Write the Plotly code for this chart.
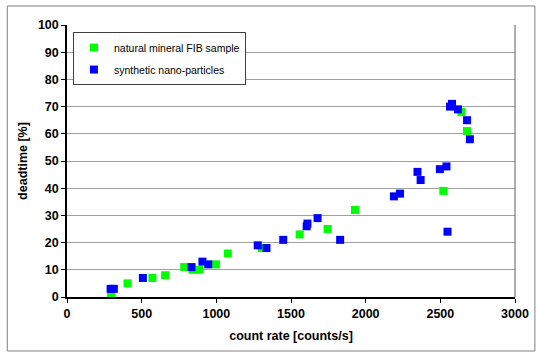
import plotly.graph_objects as go

green_x = [295, 405, 572, 657, 785, 840, 885, 997, 1077, 1305, 1558, 1745, 1928, 2520, 2640, 2678]
green_y = [1, 5, 7, 8, 11, 10, 10, 12, 16, 18, 23, 25, 32, 39, 68, 61]
blue_x = [292, 314, 508, 834, 907, 946, 1277, 1336, 1448, 1605, 1610, 1678, 1829, 2189, 2230,
          2347, 2368, 2497, 2541, 2548, 2565, 2578, 2618, 2679, 2698]
blue_y = [3, 3, 7, 11, 13, 12, 19, 18, 21, 26, 27, 29, 21, 37, 38, 46, 43, 47, 48, 24, 70, 71, 69, 65, 58]

x_ticks = [0, 500, 1000, 1500, 2000, 2500, 3000]
y_ticks = [0, 10, 20, 30, 40, 50, 60, 70, 80, 90, 100]

series_names = ["natural mineral FIB sample", "synthetic nano-particles"]
x_title = "count rate [counts/s]"
y_title = "deadtime [%]"

FONT = "Liberation Sans, Arial, sans-serif"

fig = go.Figure()
fig.add_trace(go.Scatter(x=green_x, y=green_y, mode="markers", name=series_names[0],
                         legendgroup="g1",
                         marker=dict(symbol="square", size=8, color="#00FF00", line=dict(width=0))))
fig.add_trace(go.Scatter(x=blue_x, y=blue_y, mode="markers", name=series_names[1],
                         legendgroup="g2",
                         marker=dict(symbol="square", size=8, color="#0000FF", line=dict(width=0))))

fig.update_layout(
    width=541, height=353,
    margin=dict(l=67, r=24, t=25, b=56),
    paper_bgcolor="white", plot_bgcolor="white",
    font=dict(family=FONT, size=12, color="black"),
    showlegend=True,
    legend=dict(x=0.0133, y=0.974, xanchor="left", yanchor="top",
                bgcolor="white", bordercolor="#404040", borderwidth=1,
                font=dict(family=FONT, size=10.5, color="black"),
                tracegroupgap=3),
    xaxis=dict(range=[0, 3000], tickvals=x_ticks,
               ticktext=[f"<b>{v}</b>" for v in x_ticks],
               showgrid=False, zeroline=False,
               showline=True, linecolor="black", linewidth=1.5,
               ticks="outside", ticklen=4, tickcolor="black", tickwidth=1,
               tickfont=dict(family=FONT, size=12.5),
               title=dict(text=f"<b>{x_title}</b>", font=dict(family=FONT, size=12.5), standoff=11)),
    yaxis=dict(range=[0, 100], tickvals=y_ticks,
               ticktext=[f"<b>{v}</b>" for v in y_ticks],
               showgrid=True, gridcolor="#A0A0A0", gridwidth=1, zeroline=False,
               showline=True, linecolor="black", linewidth=1.5,
               ticks="outside", ticklen=4, tickcolor="black", tickwidth=1,
               tickfont=dict(family=FONT, size=12.5),
               title=dict(text=f"<b>{y_title}</b>", font=dict(family=FONT, size=12.5), standoff=8)),
    shapes=[
        dict(type="line", xref="paper", yref="paper", x0=1, x1=1, y0=0, y1=1,
             line=dict(color="#606060", width=1)),
        dict(type="rect", xref="paper", yref="paper", x0=-0.1333, x1=1.0444, y0=-0.1985, y1=1.0699,
             line=dict(color="#808080", width=1), layer="below"),
    ],
)

fig.write_html("out.html")
